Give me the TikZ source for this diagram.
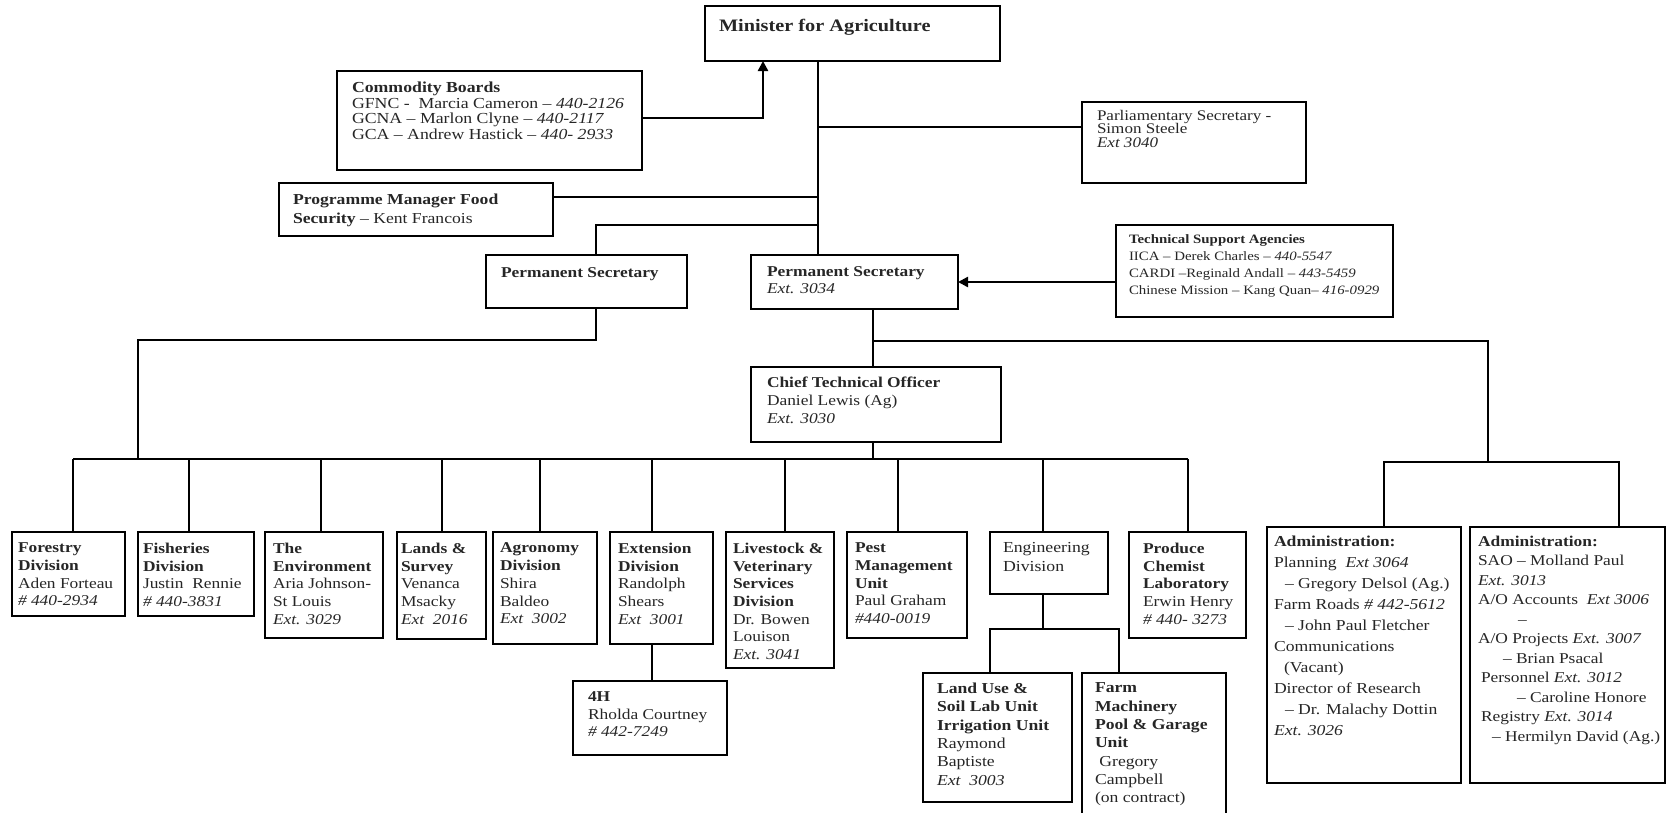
\documentclass[tikz,border=0pt]{standalone}
\usepackage{fontspec}
\setmainfont{Liberation Serif}[FakeStretch=1.16]
\usetikzlibrary{arrows.meta}
\newcommand{\orgbox}[7]{%
  \node[obox, minimum width={(#4)-(#2)}, minimum height={(#5)-(#3)}, anchor=north west] (#1) at (#2,#3) {};
  \node[otxt, anchor=north west, #6] (#1-t) at (#1.north west) {#7};%
}
\tikzset{
  obox/.style={draw=black, line width=1.3pt, inner sep=0pt, outer sep=0pt, fill=white},
  otxt/.style={inner sep=0pt, outer sep=0pt, align=left, text=black!85},
  conn/.style={draw=black, line width=1.3pt},
  bigarrow/.style={draw=black, line width=2.4pt, -{Triangle[length=10pt,width=10pt]}},
  fs/.style 2 args={font=\fontsize{#1}{#2}\selectfont},
  dv/.style={fs={15}{17.7}, yshift=-11pt},
}
\begin{document}
\begin{tikzpicture}[x=1pt, y=-1pt]
\useasboundingbox (0,0) rectangle (1667,812);
\fill[white] (0,0) rectangle (1667,812);

% ---------- boxes ----------
\orgbox{min}{705}{6}{1000}{61}{fs={17.5}{20}, xshift=14pt, yshift=-13pt}{\textbf{Minister for Agriculture}}
\orgbox{com}{337}{71}{642}{170}{fs={15.3}{15.5}, xshift=15pt, yshift=-11pt}{\textbf{Commodity Boards}\\GFNC -\ \ Marcia Cameron – \textit{440-2126}\\GCNA – Marlon Clyne – \textit{440-2117}\\GCA – Andrew Hastick – \textit{440- 2933}}
\orgbox{parl}{1082}{102}{1306}{183}{fs={14.7}{13.5}, xshift=15pt, yshift=-8pt}{Parliamentary Secretary -\\Simon Steele\\\textit{Ext 3040}}
\orgbox{prog}{279}{183}{553}{236}{fs={15.2}{19}, xshift=14pt, yshift=-11pt}{\textbf{Programme Manager Food}\\\textbf{Security} – Kent Francois}
\orgbox{psl}{486}{255}{687}{308}{fs={15}{17}, xshift=15pt, yshift=-13pt}{\textbf{Permanent Secretary}}
\orgbox{psr}{751}{255}{958}{309}{fs={15}{17}, xshift=16pt, yshift=-12pt}{\textbf{Permanent Secretary}\\\textit{Ext. 3034}}
\orgbox{tech}{1116}{225}{1393}{317}{fs={12.8}{17}, xshift=13pt, yshift=-10pt}{\textbf{Technical Support Agencies}\\IICA – Derek Charles – \textit{440-5547}\\CARDI –Reginald Andall – \textit{443-5459}\\Chinese Mission – Kang Quan– \textit{416-0929}}
\orgbox{cto}{751}{367}{1001}{442}{fs={15}{17.8}, xshift=16pt, yshift=-10pt}{\textbf{Chief Technical Officer}\\Daniel Lewis (Ag)\\\textit{Ext. 3030}}

\orgbox{for}{12}{532}{125}{616}{dv, xshift=6pt}{\textbf{Forestry}\\\textbf{Division}\\Aden Forteau\\\textit{\# 440-2934}}
\orgbox{fis}{138}{532}{254}{616}{dv, xshift=5pt}{\textbf{Fisheries}\\\textbf{Division}\\Justin\ \ Rennie\\\textit{\# 440-3831}}
\orgbox{env}{265}{532}{383}{638}{dv, xshift=8pt}{\textbf{The}\\\textbf{Environment}\\Aria Johnson-\\St Louis\\\textit{Ext. 3029}}
\orgbox{lan}{397}{532}{486}{639}{dv, xshift=4pt}{\textbf{Lands \&}\\\textbf{Survey}\\Venanca\\Msacky\\\textit{Ext\ \ 2016}}
\orgbox{agr}{493}{532}{597}{644}{dv, xshift=7pt}{\textbf{Agronomy}\\\textbf{Division}\\Shira\\Baldeo\\\textit{Ext\ \ 3002}}
\orgbox{ext}{610}{532}{713}{644}{dv, xshift=8pt}{\textbf{Extension}\\\textbf{Division}\\Randolph\\Shears\\\textit{Ext\ \ 3001}}
\orgbox{liv}{726}{532}{834}{668}{dv, xshift=7pt}{\textbf{Livestock \&}\\\textbf{Veterinary}\\\textbf{Services}\\\textbf{Division}\\Dr. Bowen\\Louison\\\textit{Ext. 3041}}
\orgbox{pes}{847}{532}{967}{638}{dv, xshift=8pt}{\textbf{Pest}\\\textbf{Management}\\\textbf{Unit}\\Paul Graham\\\textit{\#440-0019}}
\orgbox{eng}{990}{532}{1108}{594}{fs={15.3}{19}, xshift=13pt, yshift=-10pt}{Engineering\\Division}
\orgbox{pro}{1129}{532}{1246}{638}{dv, xshift=14pt}{\textbf{Produce}\\\textbf{Chemist}\\\textbf{Laboratory}\\Erwin Henry\\\textit{\# 440- 3273}}
\orgbox{fhh}{573}{681}{727}{755}{fs={15}{17.5}, xshift=15pt, yshift=-11pt}{\textbf{4H}\\Rholda Courtney\\\textit{\# 442-7249}}
\orgbox{lus}{923}{673}{1072}{802}{fs={15.2}{18.3}, xshift=14pt, yshift=-10pt}{\textbf{Land Use \&}\\\textbf{Soil Lab Unit}\\\textbf{Irrigation\ Unit}\\Raymond\\Baptiste\\\textit{Ext\ \ 3003}}
\orgbox{frm}{1082}{673}{1226}{830}{fs={15.2}{18.3}, xshift=13pt, yshift=-10pt}{\textbf{Farm}\\\textbf{Machinery}\\\textbf{Pool \& Garage}\\\textbf{Unit}\\\ Gregory\\Campbell\\(on contract)}
\orgbox{ad1}{1267}{527}{1461}{783}{fs={15.2}{21}, xshift=7pt, yshift=-9pt}{\textbf{Administration:}\\Planning\ \ \textit{Ext 3064}\\\hspace*{11pt}– Gregory Delsol (Ag.)\\Farm Roads \textit{\# 442-5612}\\\hspace*{11pt}– John Paul Fletcher\\Communications\\\hspace*{10pt}(Vacant)\\Director of Research\\\hspace*{11pt}– Dr. Malachy Dottin\\\textit{Ext. 3026}}
\orgbox{ad2}{1470}{527}{1665}{783}{fs={15}{19.5}, xshift=8pt, yshift=-9pt}{\textbf{Administration:}\\SAO – Molland Paul\\\textit{Ext. 3013}\\A/O Accounts\ \ \textit{Ext 3006}\\\hspace*{40pt}–\\A/O Projects \textit{Ext. 3007}\\\hspace*{25pt}– Brian Psacal\\\hspace*{3pt}Personnel \textit{Ext. 3012}\\\hspace*{39pt}– Caroline Honore\\\hspace*{3pt}Registry \textit{Ext. 3014}\\\hspace*{14pt}– Hermilyn David (Ag.)}

% ---------- connectors ----------
\coordinate (c1) at (763,118);
\draw[bigarrow] (c1 -| com.east) -- (c1) -- (c1 |- min.south);

\coordinate (sp) at (818,0);
\draw[conn] (sp |- min.south) -- (sp |- psr.north);
\coordinate (p1) at (818,127);
\draw[conn] (p1) -- (p1 -| parl.west);
\coordinate (p2) at (818,197);
\draw[conn] (p2 -| prog.east) -- (p2);
\coordinate (p3) at (818,225);
\coordinate (p3b) at (596,225);
\draw[conn] (p3) -- (p3b) -- (p3b |- psl.north);

\draw[bigarrow] (tech.west |- psr.east) -- (psr.east);

\coordinate (bar) at (0,459);
\coordinate (lp) at (596,340);
\coordinate (lq) at (138,340);
\draw[conn] (lp |- psl.south) -- (lp) -- (lq) -- (lq |- bar);

\coordinate (rp) at (873,341);
\coordinate (rq) at (1488,341);
\coordinate (rr) at (1488,462);
\draw[conn] (rp |- psr.south) -- (rp |- cto.north);
\draw[conn] (rp) -- (rq) -- (rr);
\coordinate (ab1) at (1384,462);
\coordinate (ab2) at (1619,462);
\draw[conn] (ab1 |- ad1.north) -- (ab1) -- (ab2) -- (ab2 |- ad2.north);
\draw[conn] (rp |- cto.south) -- (rp |- bar);

\foreach \n/\x in {for/73, fis/189, env/321, lan/442, agr/540, ext/652, liv/785, pes/898, eng/1043, pro/1188} {
  \coordinate (d-\n) at (\x,459);
  \draw[conn] (d-\n) -- (d-\n |- \n.north);
}
\draw[conn] (d-for) -- (d-pro);

\draw[conn] (d-ext |- ext.south) -- (d-ext |- fhh.north);

\coordinate (e0) at (1043,629);
\coordinate (e1) at (990,629);
\coordinate (e2) at (1119,629);
\draw[conn] (e0 |- eng.south) -- (e0);
\draw[conn] (e1 |- lus.north) -- (e1) -- (e2) -- (e2 |- frm.north);
\end{tikzpicture}
\end{document}
